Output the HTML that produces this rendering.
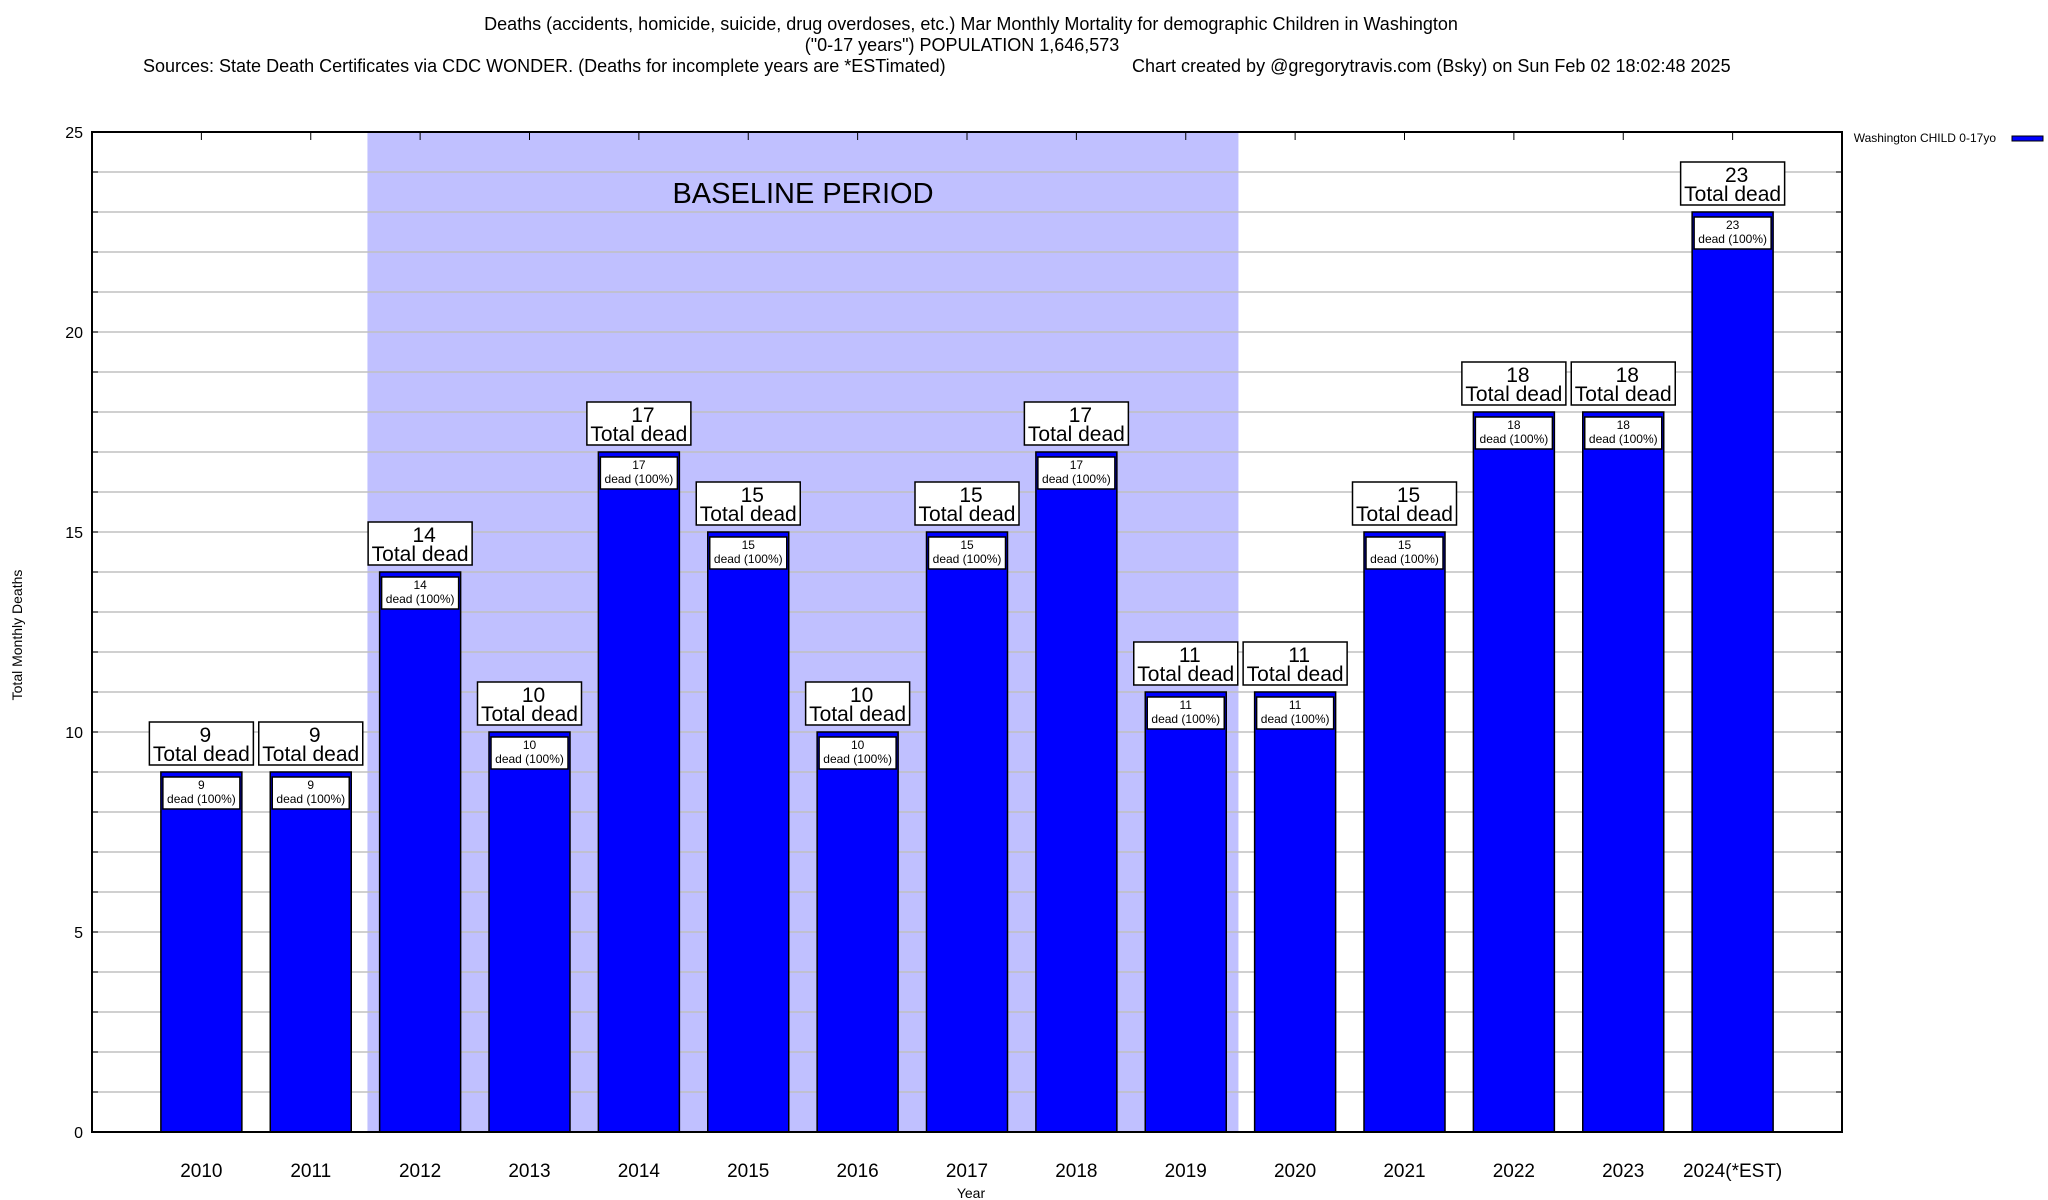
<!DOCTYPE html>
<html><head><meta charset="utf-8"><style>
body{margin:0;background:#fff;}
svg{display:block;font-family:"Liberation Sans",Arial,sans-serif;}
</style></head><body>
<svg id="chart" width="2048" height="1200" viewBox="0 0 2048 1200">
<g font-size="18" fill="#000">
<text x="971" y="30" text-anchor="middle">Deaths (accidents, homicide, suicide, drug overdoses, etc.) Mar Monthly Mortality for demographic Children in Washington</text>
<text x="962" y="51" text-anchor="middle">("0-17 years") POPULATION 1,646,573</text>
<text x="143" y="72">Sources: State Death Certificates via CDC WONDER. (Deaths for incomplete years are *ESTimated)</text>
<text x="1132" y="72">Chart created by @gregorytravis.com (Bsky) on Sun Feb 02 18:02:48 2025</text>
</g>
<g id="plot"></g>
<g>
<text x="1996" y="142" font-size="12" text-anchor="end">Washington CHILD 0-17yo</text>
<rect x="2012" y="136" width="31" height="5" fill="#0000ff" stroke="#000" stroke-width="1"/>
</g>
<text transform="translate(22,635) rotate(-90)" text-anchor="middle" font-size="14">Total Monthly Deaths</text>
<text x="971" y="1198" text-anchor="middle" font-size="14">Year</text>
</svg>
<script>
const categories=["2010","2011","2012","2013","2014","2015","2016","2017","2018","2019","2020","2021","2022","2023","2024(*EST)"];
const values=[9,9,14,10,17,15,10,15,17,11,11,15,18,18,23];
const yTicks=[0,5,10,15,20,25];
const baselineRange=[2,9];
const NS="http://www.w3.org/2000/svg";
const L=92,R=1842,T=132,B=1132,yMax=25;
const step=(R-L)/(categories.length+1);
const xs=i=>L+step*(i+1);
const ys=v=>B-(B-T)*v/yMax;
const g=document.getElementById('plot');
function mk(tag,attrs,parent){const e=document.createElementNS(NS,tag);for(const k in attrs)e.setAttribute(k,attrs[k]);(parent||g).appendChild(e);return e;}
// baseline band
const band=mk('rect',{x:xs(baselineRange[0]-0.5)+2,y:T,width:xs(baselineRange[1]+0.5)-xs(baselineRange[0]-0.5)-4,height:B-T,fill:'#c0c0ff'});


// gridlines
for(let v=1;v<yMax;v++){
  const ln=mk('line',{x1:L,x2:R,y1:ys(v),y2:ys(v),stroke:'#c0c0c0','stroke-width':1.5});
  
  
  mk('line',{x1:L,x2:L+6,y1:ys(v),y2:ys(v),stroke:'#000'});
  mk('line',{x1:R-6,x2:R,y1:ys(v),y2:ys(v),stroke:'#000'});
}
const bt=mk('text',{x:803,y:203,'font-size':29,'text-anchor':'middle'});
bt.textContent='BASELINE PERIOD';


// y tick labels
yTicks.forEach(v=>{
  const t=mk('text',{x:L-9,y:ys(v)+6,'font-size':16,'text-anchor':'end'});
  t.textContent=v;
  
  
});
categories.forEach((c,i)=>{
  const cx=xs(i),v=values[i],y=ys(v),bw=81;
  mk('line',{x1:cx,x2:cx,y1:T,y2:T+8,stroke:'#000'});
  const bar=mk('rect',{x:cx-bw/2,y:y,width:bw,height:B-y,fill:'#0000ff',stroke:'#000','stroke-width':1.5});
  
  
  const ib=mk('rect',{x:cx-bw/2+2,y:y+5,width:bw-4,height:32,fill:'#fff',stroke:'#000','stroke-width':1.5});
  
  
  const t1=mk('text',{x:cx,y:y+17,'font-size':12,'text-anchor':'middle'});t1.textContent=v;
  
  
  const t2=mk('text',{x:cx,y:y+31,'font-size':12,'text-anchor':'middle'});t2.textContent='dead (100%)';
  
  
  const ob=mk('rect',{x:cx-52,y:y-50,width:104,height:43,fill:'#fff',stroke:'#000','stroke-width':1.5});
  
  
  const t3=mk('text',{x:cx+4,y:y-30,'font-size':21,'text-anchor':'middle'});t3.textContent=v;
  
  
  const t4=mk('text',{x:cx,y:y-11,'font-size':21,'text-anchor':'middle'});t4.textContent='Total dead';
  
  
  const xl=mk('text',{x:cx,y:1177,'font-size':19,'text-anchor':'middle'});xl.textContent=c;
  
  
});
const frame=mk('rect',{x:L,y:T,width:R-L,height:B-T,fill:'none',stroke:'#000','stroke-width':2});


</script>
</body></html>
